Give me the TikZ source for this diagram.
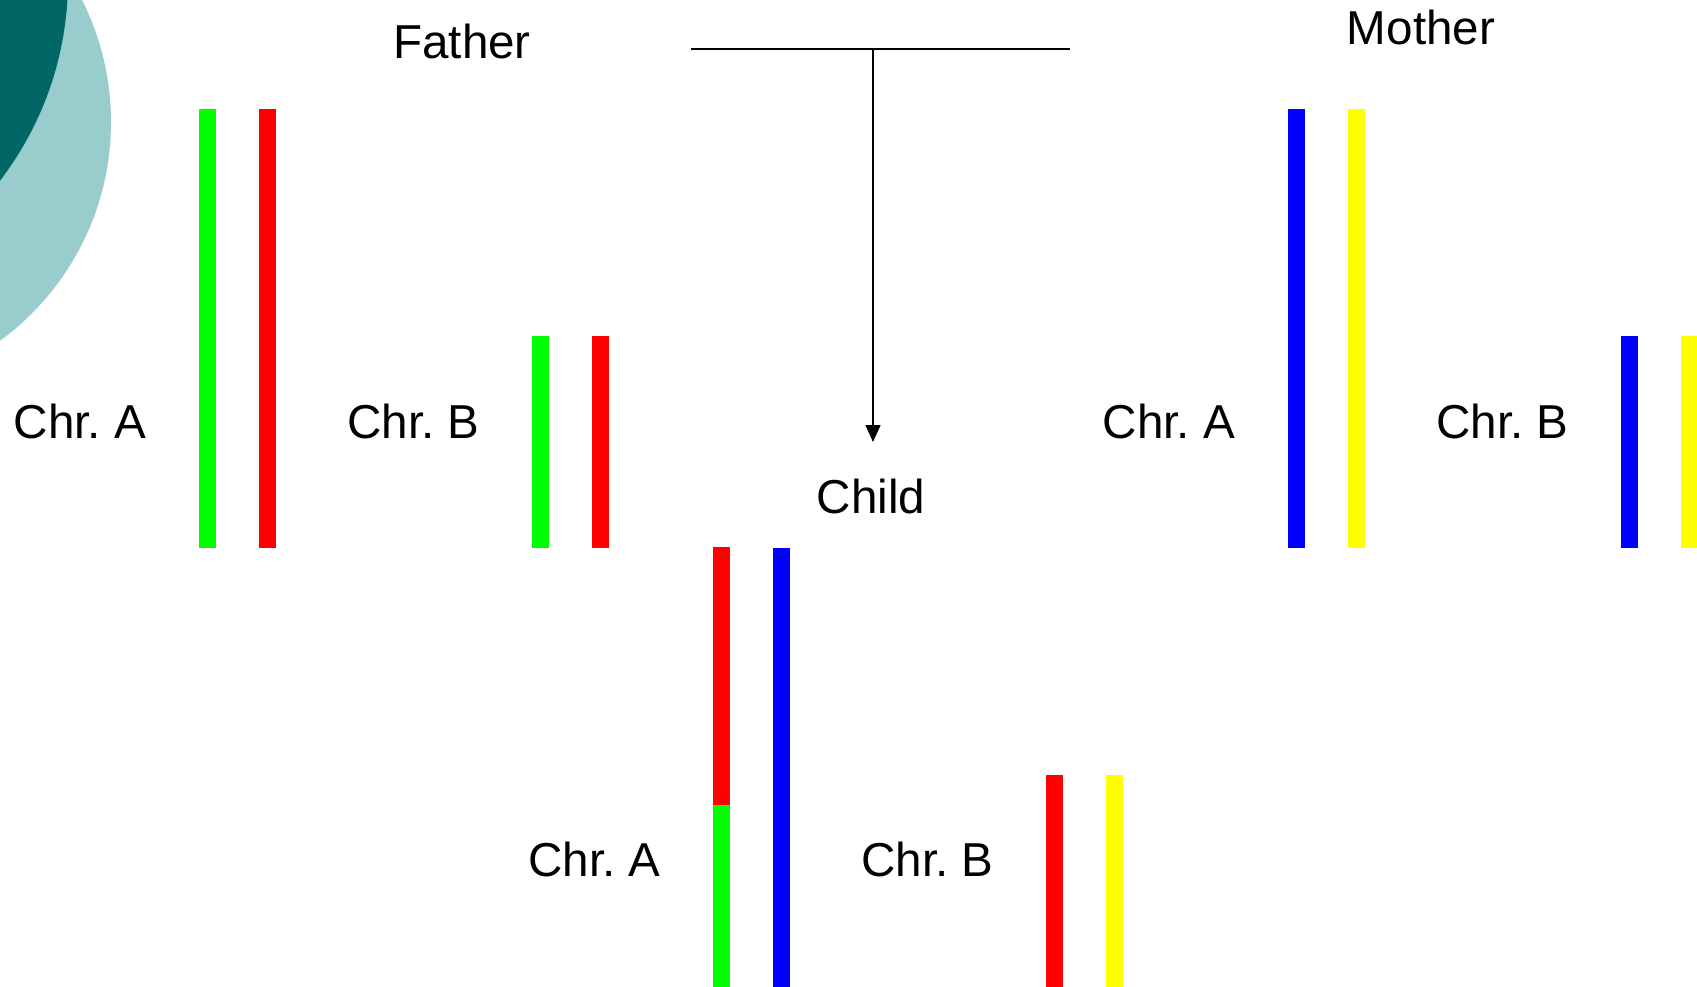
\documentclass[tikz,border=0pt]{standalone}
\usepackage{fontspec}
\setmainfont{Liberation Sans}
\usetikzlibrary{arrows.meta}
\frenchspacing
\definecolor{tealdark}{RGB}{0,102,102}
\definecolor{teallight}{RGB}{153,204,204}
\definecolor{chrgreen}{RGB}{0,255,0}
\definecolor{chrred}{RGB}{255,0,0}
\definecolor{chrblue}{RGB}{0,0,255}
\definecolor{chryellow}{RGB}{255,255,0}
\begin{document}
\begin{tikzpicture}[x=1pt,y=-1pt,
  lbl/.style={anchor=base,inner sep=0pt,font=\fontsize{47.6}{58}\selectfont},
  link/.style={line width=1.6pt,black},
  arrowlink/.style={line width=1.6pt,black,-{Triangle[width=15pt,length=17pt]}}]
\useasboundingbox (0,0) rectangle (1697,987);
\clip (0,0) rectangle (1697,987);
% background discs in the corner
\fill[teallight] (-160,122) circle (271);
\fill[tealdark] (-262,-20) circle (330);

% titles
\node[lbl] (father) at (462,59) {Father};
\node[lbl] (mother) at (1421,45) {Mother};
\node[lbl] (child) at (871,513) {Child};

% chromosome labels
\node[lbl] (fA) at (80,438.5) {Chr. A};
\node[lbl] (fB) at (413.5,438.5) {Chr. B};
\node[lbl] (mA) at (1169,438.5) {Chr. A};
\node[lbl] (mB) at (1502.5,438.5) {Chr. B};
\node[lbl] (cA) at (594.5,876.5) {Chr. A};
\node[lbl] (cB) at (927.5,876.5) {Chr. B};

% father chromosomes
\fill[chrgreen] (199,109) rectangle (216,548);
\fill[chrred]   (259,109) rectangle (276,548);
\fill[chrgreen] (532,336) rectangle (549,548);
\fill[chrred]   (592,336) rectangle (609,548);

% mother chromosomes
\fill[chrblue]   (1288,109) rectangle (1305,548);
\fill[chryellow] (1348,109) rectangle (1365,548);
\fill[chrblue]   (1621,336) rectangle (1638,548);
\fill[chryellow] (1681,336) rectangle (1698,548);

% child chromosomes
\fill[chrred]    (713,547) rectangle (730,805);
\fill[chrgreen]  (713,805) rectangle (730,988);
\fill[chrblue]   (773,548) rectangle (790,988);
\fill[chrred]    (1046,775) rectangle (1063,988);
\fill[chryellow] (1106,775) rectangle (1123,988);

% cross connector
\coordinate (crossL) at (691,49);
\coordinate (crossR) at (1070,49);
\coordinate (cross) at (873,49);
\coordinate (tip) at (873,442);
\draw[link] (crossL) -- (crossR);
\draw[arrowlink] (cross) -- (tip);
\end{tikzpicture}
\end{document}
